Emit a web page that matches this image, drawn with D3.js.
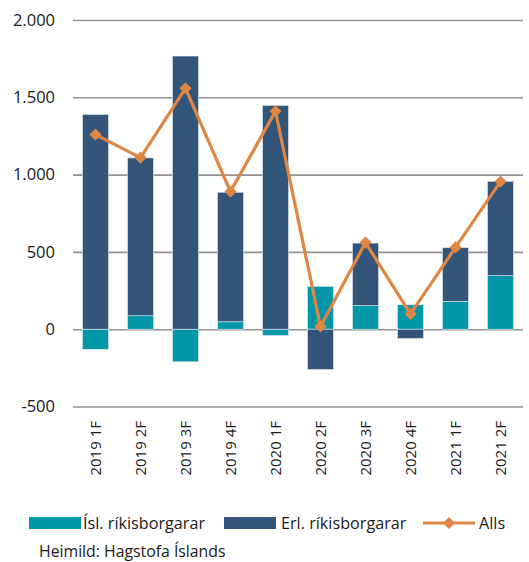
<!DOCTYPE html>
<html>
<head>
<meta charset="utf-8">
<script src="https://d3js.org/d3.v7.min.js"></script>
<style>
  body { margin: 0; background: #fff; }
  text { font-family: "Open Sans", "Noto Sans", sans-serif; fill: #1a1a1a; }
</style>
</head>
<body>
<svg width="529" height="562"></svg>
<script>
var periods = ["2019 1F", "2019 2F", "2019 3F", "2019 4F", "2020 1F",
               "2020 2F", "2020 3F", "2020 4F", "2021 1F", "2021 2F"];
var isl  = [-130, 87, -211, 48, -41, 277, 152, 158, 180, 346];
var erl  = [1389, 1021, 1767, 838, 1448, -261, 405, -60, 347, 611];
var alls = [1259, 1110, 1558, 890, 1410, 18, 560, 99, 529, 955];
var yTicks = [-500, 0, 500, 1000, 1500, 2000];
var seriesNames = ["Ísl. ríkisborgarar", "Erl. ríkisborgarar", "Alls"];

var colTeal = "#0097a9", colNavy = "#33557a", colOrange = "#df8644";

var svg = d3.select("svg");
var x = d3.scaleBand().domain(periods).range([73, 523]).paddingInner(0.42).paddingOuter(0.21);
var y = d3.scaleLinear().domain([-500, 2000]).range([406.5, 20]);

var fmt0 = d3.formatLocale({decimal: ",", thousands: ".", grouping: [3], currency: ["", ""], minus: "-"}).format(",");

// gridlines + y labels
var yAxis = d3.axisLeft(y).tickValues(yTicks).tickSize(-450).tickPadding(18).tickFormat(fmt0);
var gy = svg.append("g").attr("transform", "translate(73,0)").call(yAxis);
gy.select(".domain").remove();
gy.selectAll("line").attr("stroke", "#939393").attr("stroke-width", 1.6);
gy.selectAll("text").attr("font-size", 16.5).attr("fill", "#1a1a1a")
  .style("font-family", "'Open Sans', 'Noto Sans', sans-serif");

// stacked bars
var rows = periods.map(function(p, i) { return {p: p, isl: isl[i], erl: erl[i]}; });
var stack = d3.stack().keys(["isl", "erl"]).offset(d3.stackOffsetDiverging)(rows);
var colors = {isl: colTeal, erl: colNavy};

svg.append("g").selectAll("g").data(stack).enter().append("g")
  .attr("fill", function(s) { return colors[s.key]; })
  .selectAll("rect").data(function(s) { return s; }).enter().append("rect")
  .attr("x", function(d) { return x(d.data.p); })
  .attr("width", x.bandwidth())
  .attr("y", function(d) { return y(d[1]); })
  .attr("height", function(d) { return y(d[0]) - y(d[1]); })
  .attr("stroke", "#e6eef5").attr("stroke-width", 0.6);

// total line
var line = d3.line()
  .x(function(d, i) { return x(periods[i]) + x.bandwidth() / 2; })
  .y(function(d) { return y(d); });
svg.append("path").datum(alls).attr("d", line)
  .attr("fill", "none").attr("stroke", colOrange).attr("stroke-width", 3.2)
  .attr("stroke-linejoin", "round");

var diamond = d3.symbol().type(d3.symbolSquare).size(74);
svg.append("g").selectAll("path").data(alls).enter().append("path")
  .attr("d", diamond)
  .attr("fill", colOrange)
  .attr("transform", function(d, i) {
    return "translate(" + (x(periods[i]) + x.bandwidth() / 2) + "," + y(d) + ") rotate(45)";
  });

// x labels
var xAxis = d3.axisBottom(x).tickSize(0).tickPadding(0);
var gx = svg.append("g").attr("transform", "translate(0,421)").call(xAxis);
gx.select(".domain").remove();
gx.selectAll("text")
  .attr("font-size", 15).attr("fill", "#1a1a1a")
  .style("font-family", "'Open Sans', 'Noto Sans', sans-serif")
  .attr("text-anchor", "end")
  .attr("dy", "0.35em")
  .attr("transform", "rotate(-90)")
  .attr("x", 0).attr("y", 0);

// legend
var lg = svg.append("g").attr("font-size", 16.2);
lg.append("rect").attr("x", 29).attr("y", 517).attr("width", 52).attr("height", 12).attr("fill", colTeal);
lg.append("text").attr("x", 83).attr("y", 529).text(seriesNames[0]);
lg.append("rect").attr("x", 224).attr("y", 517).attr("width", 52).attr("height", 12).attr("fill", colNavy);
lg.append("text").attr("x", 281).attr("y", 529).text(seriesNames[1]);
lg.append("line").attr("x1", 423).attr("x2", 475).attr("y1", 523).attr("y2", 523)
  .attr("stroke", colOrange).attr("stroke-width", 3.2);
lg.append("path").attr("d", diamond).attr("fill", colOrange)
  .attr("transform", "translate(449,523) rotate(45)");
lg.append("text").attr("x", 479).attr("y", 529).text(seriesNames[2]);

svg.append("text").attr("x", 39).attr("y", 557).attr("font-size", 15.8)
  .text("Heimild: Hagstofa Íslands");
</script>
</body>
</html>
